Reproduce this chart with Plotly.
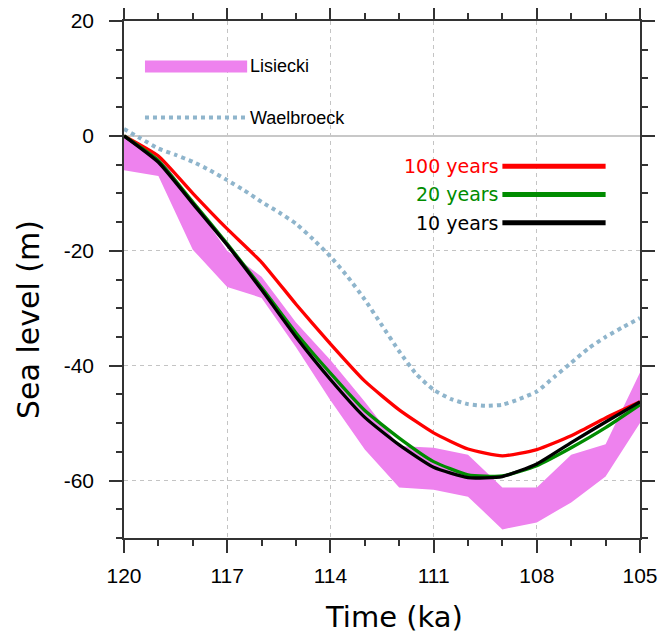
import plotly.graph_objects as go

# ---------------- data ----------------
time_ka = [120, 119, 118, 117, 116, 115, 114, 113, 112, 111, 110, 109, 108, 107, 106, 105]

lisiecki_upper = [0, -3.2, -11.5, -20, -24.5, -32.5, -39, -46.3, -54, -54.3, -55.5, -61.2, -61.2, -55.5, -53.7, -41.2]
lisiecki_lower = [-6, -7, -19.8, -26.3, -28.2, -36.8, -46, -54.6, -61.2, -61.6, -62.8, -68.5, -67.3, -63.8, -59.3, -50]

wael_time = [120, 119.5, 119, 118.5, 118, 117.5, 117, 116.5, 116, 115.5, 115, 114.5, 114, 113.5,
             113, 112.5, 112, 111.5, 111, 110.5, 110, 109.5, 109, 108.5, 108, 107.5, 107, 106.5,
             106, 105.5, 105]
waelbroeck = [1.2, -0.5, -2.2, -3.3, -4.5, -6, -7.7, -9.5, -11.5, -13.3, -15.3, -18, -21, -24.5,
              -28.5, -33, -37.5, -41.5, -44.2, -45.8, -46.7, -47, -46.8, -45.8, -44.5, -42, -39.5, -37,
              -35, -33.3, -31.7]

run_100 = [0, -3.5, -10, -16.2, -22, -29.3, -36.2, -42.7, -47.7, -51.7, -54.5, -55.7, -54.6, -52.2, -49.1, -46.3]
run_20 = [0, -4.3, -11.5, -18.8, -26.4, -34.3, -41.3, -47.8, -52.6, -56.7, -59, -59.2, -57.4, -54.3, -50.8, -46.8]
run_10 = [0, -4.6, -11.8, -19, -26.8, -35, -42.4, -49, -53.8, -57.7, -59.5, -59.3, -57.1, -53.4, -49.8, -46.3]

x_ticks = [120, 117, 114, 111, 108, 105]
y_ticks = [20, 0, -20, -40, -60]

model_names = ["100 years", "20 years", "10 years"]
model_colors = ["#ff0000", "#008c00", "#000000"]
model_series = [run_100, run_20, run_10]

VIOLET = "#ee82ee"
WAEL = "#8fb5cc"

fig = go.Figure()

# Lisiecki band
fig.add_trace(go.Scatter(
    x=time_ka + time_ka[::-1],
    y=lisiecki_upper + lisiecki_lower[::-1],
    fill="toself", fillcolor=VIOLET, line=dict(width=0, color=VIOLET),
    mode="lines", hoverinfo="skip", showlegend=False))

# Waelbroeck
fig.add_trace(go.Scatter(
    x=wael_time, y=waelbroeck, mode="lines",
    line=dict(color=WAEL, width=4, dash="4px,4px", shape="spline", smoothing=0.5),
    showlegend=False))

for name, col, ser in zip(model_names, model_colors, model_series):
    fig.add_trace(go.Scatter(
        x=time_ka, y=ser, mode="lines",
        line=dict(color=col, width=3.3, shape="spline", smoothing=0.5),
        name=name, showlegend=False))

# ---------------- legend (drawn in data coords) ----------------
shapes = []
annotations = []
# Lisiecki
shapes.append(dict(type="line", xref="x", yref="y", x0=119.39, x1=116.42, y0=12.1, y1=12.1,
                   line=dict(color=VIOLET, width=12)))
annotations.append(dict(x=116.42, y=12.1, xref="x", yref="y", text="Lisiecki", showarrow=False,
                        xanchor="left", xshift=1,
                        font=dict(family="Liberation Sans, Arial", size=18, color="black")))
# Waelbroeck
shapes.append(dict(type="line", xref="x", yref="y", x0=119.39, x1=116.42, y0=3.2, y1=3.2,
                   line=dict(color=WAEL, width=4, dash="4px,4px")))
annotations.append(dict(x=116.42, y=3.2, xref="x", yref="y", text="Waelbroeck", showarrow=False,
                        xanchor="left", xshift=1,
                        font=dict(family="Liberation Sans, Arial", size=18, color="black")))
legend_y = [-5.3, -10.2, -15.1]
for name, col, ly in zip(model_names, model_colors, legend_y):
    shapes.append(dict(type="line", xref="x", yref="y", x0=109.0, x1=106.0, y0=ly, y1=ly,
                       line=dict(color=col, width=5)))
    annotations.append(dict(x=109.0, y=ly, xref="x", yref="y", text=name, showarrow=False,
                            xanchor="right", xshift=-1,
                            font=dict(family="DejaVu Sans", size=19, color=col)))

# axis titles
annotations.append(dict(x=0.5233, y=-0.1528, xref="paper", yref="paper", text="Time (ka)",
                        showarrow=False, xanchor="center", yanchor="middle", borderpad=0,
                        font=dict(family="DejaVu Sans", size=29, color="black")))
annotations.append(dict(x=-0.1841, y=0.4217, xref="paper", yref="paper", text="Sea level (m)",
                        showarrow=False, xanchor="center", yanchor="middle", textangle=-90,
                        font=dict(family="DejaVu Sans", size=30, color="black")))

axis_common = dict(
    showline=True, linecolor="#333333", linewidth=1.5, mirror="ticks",
    ticks="outside", ticklen=13, tickwidth=1.5, tickcolor="#333333",
    showgrid=True, gridcolor="#c4c4c4", gridwidth=1, griddash="4px,4px",
    tickfont=dict(family="Liberation Sans, Arial", size=21, color="black"),
    automargin=False,
)

fig.update_layout(
    width=672, height=635,
    margin=dict(l=116, r=40, t=13, b=105, autoexpand=False),
    plot_bgcolor="white", paper_bgcolor="white",
    shapes=shapes, annotations=annotations,
    showlegend=False,
    xaxis=dict(range=[120, 105], tickvals=x_ticks, ticktext=[str(v) for v in x_ticks],
               minor=dict(dtick=1, tick0=105, ticklen=6, tickwidth=1.5, tickcolor="#333333",
                          ticks="outside", showgrid=False),
               ticklabelstandoff=5, zeroline=False, **axis_common),
    yaxis=dict(range=[-70, 20], tickvals=y_ticks, ticktext=[str(v) for v in y_ticks],
               minor=dict(dtick=5, tick0=0, ticklen=6, tickwidth=1.5, tickcolor="#333333",
                          ticks="outside", showgrid=False),
               ticklabelstandoff=11,
               zeroline=True, zerolinecolor="#c8c8c8", zerolinewidth=2, **axis_common),
)

fig.write_html("out.html")
